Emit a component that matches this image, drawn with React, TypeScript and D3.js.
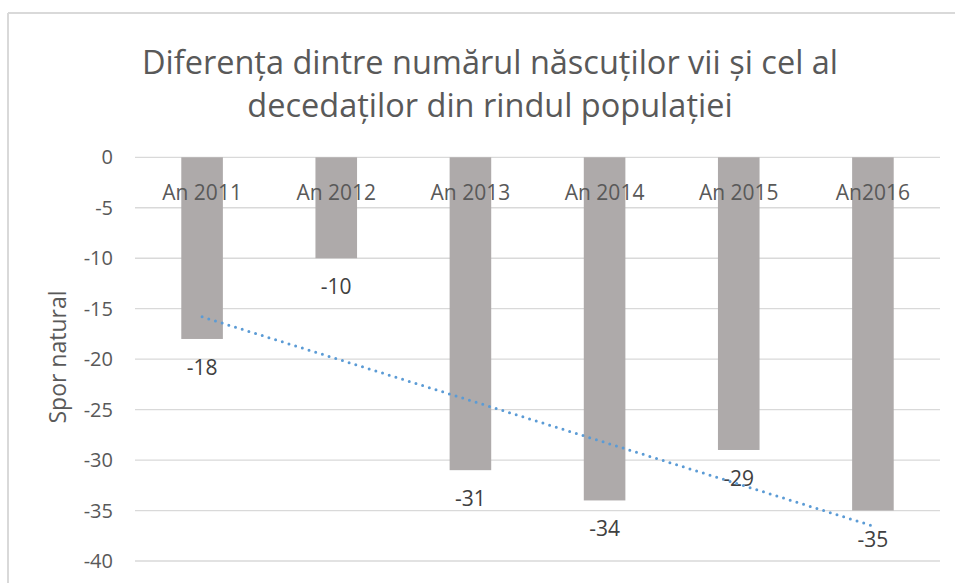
import { useMemo } from "react";
import * as d3 from "d3";

// ── Data ──────────────────────────────────────────────────────────────────────

const categories = ["An 2011", "An 2012", "An 2013", "An 2014", "An 2015", "An2016"];
const values = [-18, -10, -31, -34, -29, -35];
const yTicks = [0, -5, -10, -15, -20, -25, -30, -35, -40];
const titleLines = [
  "Diferența dintre numărul născuților vii și cel al",
  "decedaților din rindul populației",
];
const yAxisTitle = "Spor natural";

// ── Layout ────────────────────────────────────────────────────────────────────

const W = 955;
const H = 583;
const PLOT = { left: 135, right: 940, top: 157.3, bottom: 561 };
const FONT = "'Open Sans', 'Noto Sans', sans-serif";

/** Least-squares linear trend over category index 1..n */
function linearTrend(ys: number[]): [number, number] {
  const xs = ys.map((_, i) => i + 1);
  const mx = d3.mean(xs)!;
  const my = d3.mean(ys)!;
  let sxy = 0;
  let sxx = 0;
  xs.forEach((x, i) => {
    sxy += (x - mx) * (ys[i] - my);
    sxx += (x - mx) * (x - mx);
  });
  const slope = sxy / sxx;
  return [slope, my - slope * mx];
}

export default function App() {
  const xScale = useMemo(
    () => d3.scaleBand<string>().domain(categories).range([PLOT.left, PLOT.right]).paddingInner(0.69).paddingOuter(0.345),
    []
  );
  const yScale = useMemo(
    () => d3.scaleLinear().domain([0, -40]).range([PLOT.top, PLOT.bottom]),
    []
  );

  const trendPath = useMemo(() => {
    const [slope, intercept] = linearTrend(values);
    const pts: [number, number][] = [0, values.length - 1].map((i) => [
      xScale(categories[i])! + xScale.bandwidth() / 2,
      yScale(slope * (i + 1) + intercept),
    ]);
    return d3.line()(pts) ?? "";
  }, [xScale, yScale]);

  const bw = xScale.bandwidth();

  return (
    <svg
      width={W}
      height={H}
      style={{ position: "absolute", left: 0, top: 0, background: "#fff" }}
      fontFamily={FONT}
    >
      {/* Chart frame (cropped at right/bottom) */}
      <line x1={8} x2={W} y1={13} y2={13} stroke="#d9d9d9" strokeWidth={2} />
      <line x1={8} x2={8} y1={13} y2={H} stroke="#d9d9d9" strokeWidth={2} />

      {/* Title */}
      {titleLines.map((t, i) => (
        <text
          key={t}
          x={490}
          y={74 + i * 43}
          textAnchor="middle"
          fontSize={32.5}
          fill="#595959"
        >
          {t}
        </text>
      ))}

      {/* Gridlines + y tick labels */}
      {yTicks.map((t) => (
        <g key={t}>
          <line
            x1={PLOT.left}
            x2={PLOT.right}
            y1={yScale(t)}
            y2={yScale(t)}
            stroke="#d9d9d9"
            strokeWidth={1.3}
          />
          <text
            x={113}
            y={yScale(t) + 7}
            textAnchor="end"
            fontSize={20}
            fill="#595959"
          >
            {t}
          </text>
        </g>
      ))}

      {/* Y axis title */}
      <text
        transform={`translate(66,357) rotate(-90)`}
        textAnchor="middle"
        fontSize={23}
        fill="#595959"
      >
        {yAxisTitle}
      </text>

      {/* Bars */}
      {values.map((v, i) => (
        <rect
          key={categories[i]}
          x={xScale(categories[i])}
          y={yScale(0)}
          width={bw}
          height={yScale(v) - yScale(0)}
          fill="#aeaaaa"
        />
      ))}

      {/* Category labels (sit just below the zero line) */}
      {categories.map((c) => (
        <text
          key={c}
          x={xScale(c)! + bw / 2}
          y={yScale(0) + 43}
          textAnchor="middle"
          fontSize={21}
          fill="#595959"
        >
          {c}
        </text>
      ))}

      {/* Data labels */}
      {values.map((v, i) => (
        <text
          key={`lbl-${categories[i]}`}
          x={xScale(categories[i])! + bw / 2}
          y={yScale(v) + 36}
          textAnchor="middle"
          fontSize={21}
          fill="#404040"
        >
          {v}
        </text>
      ))}

      {/* Linear trendline */}
      <path
        d={trendPath}
        fill="none"
        stroke="#5b9bd5"
        strokeWidth={3}
        strokeDasharray="0 7"
        strokeLinecap="round"
      />
    </svg>
  );
}
